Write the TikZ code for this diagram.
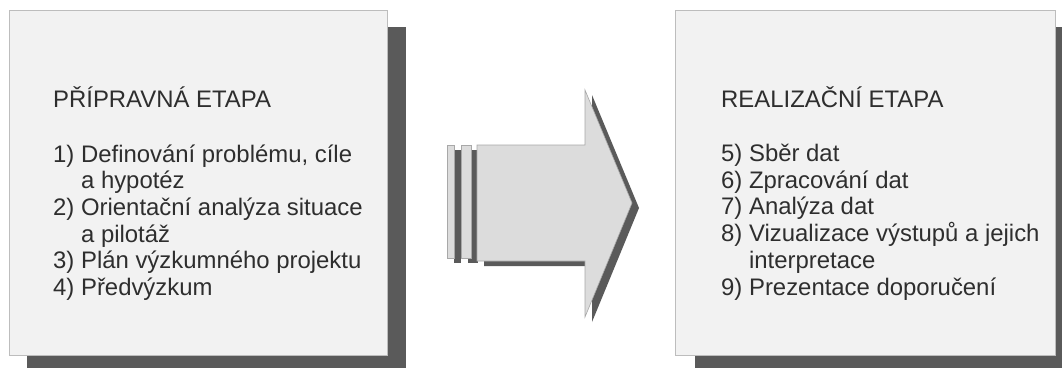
\documentclass[tikz,border=0pt]{standalone}
\usepackage{fontspec}
\setmainfont{Liberation Sans}
\definecolor{shadowgray}{HTML}{5A5A5A}
\definecolor{panelfill}{HTML}{F2F2F2}
\definecolor{panelline}{HTML}{BDBDBD}
\definecolor{inkgray}{HTML}{2E2E2E}
\definecolor{arrowfill}{HTML}{DCDCDC}
\definecolor{arrowline}{HTML}{A8A8A8}
\begin{document}
\begin{tikzpicture}[x=1pt,y=-1pt,
  shadowbox/.style={fill=shadowgray,draw=none},
  panel/.style={fill=panelfill,draw=panelline,line width=1pt},
  txt/.style={anchor=base west,inner sep=0pt,text=inkgray,font=\fontsize{23.9}{26.7}\selectfont},
  arrowpiece/.style={fill=arrowfill,draw=arrowline,line width=0.6pt},
  arrowshadow/.style={fill=shadowgray,draw=none}]
\useasboundingbox (0,0) rectangle (1062,367);
\fill[white] (0,0) rectangle (1062,367);

% left panel
\fill[shadowbox] (27,27) rectangle (406,380);
\node[panel,anchor=north west,minimum width=378pt,minimum height=345pt,inner sep=0pt] (prep) at (9,10) {};
\node[txt] (prepH) at (53,107) {PŘÍPRAVNÁ ETAPA};
\node[txt] (p1) at (53,162) {1) Definování problému, cíle};
\node[txt] (p1b) at (53,188.7) {\hphantom{1)}\ a hypotéz};
\node[txt] (p2) at (53,215.3) {2) Orientační analýza situace};
\node[txt] (p2b) at (53,242) {\hphantom{2)}\ a pilotáž};
\node[txt] (p3) at (53,268.7) {3) Plán výzkumného projektu};
\node[txt] (p4) at (53,295.3) {4) Předvýzkum};

% right panel
\fill[shadowbox] (695,27) rectangle (1075,380);
\node[panel,anchor=north west,minimum width=380pt,minimum height=345pt,inner sep=0pt] (real) at (675,10) {};
\node[txt] (realH) at (721,107) {REALIZAČNÍ ETAPA};
\node[txt] (r5) at (721,161.5) {5) Sběr dat};
\node[txt] (r6) at (721,188.2) {6) Zpracování dat};
\node[txt] (r7) at (721,214.9) {7) Analýza dat};
\node[txt] (r8) at (721,241.6) {8) Vizualizace výstupů a jejich};
\node[txt] (r8b) at (721,268.3) {\hphantom{8)}\ interpretace};
\node[txt] (r9) at (721,295) {9) Prezentace doporučení};

% block arrow with shadow
\begin{scope}[shift={(7,5)}]
  \fill[arrowshadow] (447,145) rectangle (454,258);
  \fill[arrowshadow] (461,145) rectangle (471,258);
  \fill[arrowshadow] (477,145) -- (585,145) -- (585,90) -- (632,203) -- (585,317) -- (585,261) -- (477,261) -- cycle;
\end{scope}
\filldraw[arrowpiece] (447,145) rectangle (454,258);
\filldraw[arrowpiece] (461,145) rectangle (471,258);
\filldraw[arrowpiece] (477,145) -- (585,145) -- (585,90) -- (632,203) -- (585,317) -- (585,261) -- (477,261) -- cycle;
\end{tikzpicture}
\end{document}
